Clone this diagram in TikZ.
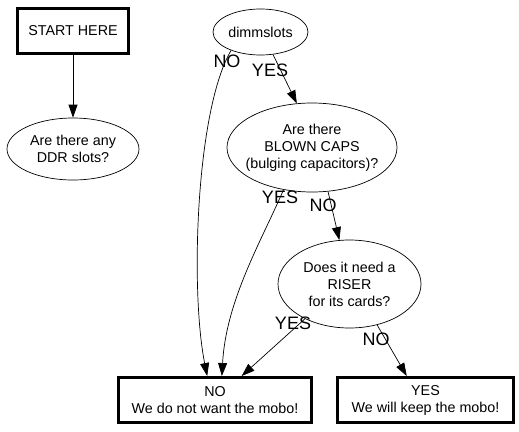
\documentclass[tikz,border=0pt]{standalone}
\usepackage{fontspec}
\setmainfont{Liberation Sans}
\usetikzlibrary{arrows.meta,shapes.geometric}
\begin{document}
\begin{tikzpicture}[x=1pt,y=-1pt,
  boxnode/.style={draw,line width=3pt,rectangle,inner sep=0pt,align=center,font=\fontsize{14.3}{17}\selectfont},
  ellnode/.style={draw,line width=0.7pt,ellipse,inner sep=0pt},
  txt/.style={align=center,font=\fontsize{14.3}{17}\selectfont,inner sep=0pt},
  lbl/.style={font=\fontsize{18}{18}\selectfont,inner sep=0pt},
  conn/.style={line width=0.7pt,-{Triangle[length=13pt,width=9pt]}}]
\path[use as bounding box] (0,0) rectangle (519,431);

\node[boxnode,minimum width=111pt,minimum height=45pt] (start) at (73,31) {START HERE};
\node[ellnode,minimum width=132pt,minimum height=62pt] (ddr) at (73,149) {};
\node[txt] (ddrt) at (ddr) {Are there any\\DDR slots?};
\node[ellnode,minimum width=95pt,minimum height=46pt] (dimm) at (260.5,32) {};
\node[txt] (dimmt) at (dimm) {dimmslots};
\node[ellnode,minimum width=170pt,minimum height=89pt] (caps) at (312,147.5) {};
\node[txt] (capst) at (caps) {Are there\\BLOWN CAPS\\(bulging capacitors)?};
\node[ellnode,minimum width=143pt,minimum height=88pt] (riser) at (349.5,284) {};
\node[txt] (risert) at (riser) {Does it need a\\RISER\\for its cards?};
\node[boxnode,minimum width=193pt,minimum height=45pt] (nobox) at (215,400) {NO\\We do not want the mobo!};
\node[boxnode,minimum width=176pt,minimum height=45pt] (yesbox) at (425.5,400) {YES\\We will keep the mobo!};

\draw[conn] (start) -- (ddr);
\draw[conn] (dimm.299) -- (caps.109);
\draw[conn] (dimm.212) .. controls (196,110) and (190,290) .. (nobox.108);
\draw[conn] (caps.236) .. controls (262,240) and (226,300) .. (nobox.74);
\draw[conn] (caps.290) -- (riser.103);
\draw[conn] (riser.218) -- (nobox.42);
\draw[conn] (riser.304) -- (yesbox.128);

\node[lbl] (l1) at (227,61) {NO};
\node[lbl] (l2) at (270,70) {YES};
\node[lbl] (l3) at (280,197) {YES};
\node[lbl] (l4) at (323,205) {NO};
\node[lbl] (l5) at (293,323) {YES};
\node[lbl] (l6) at (376,339) {NO};
\end{tikzpicture}
\end{document}
